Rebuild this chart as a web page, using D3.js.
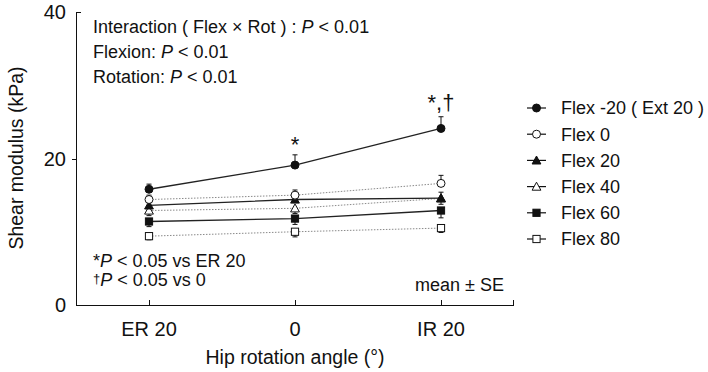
<!DOCTYPE html>
<html><head><meta charset="utf-8">
<script src="https://cdn.jsdelivr.net/npm/d3@7"></script>
<style>body{margin:0;background:#fff}svg{display:block;font-family:"Liberation Sans",Arial,Helvetica,sans-serif;-webkit-font-smoothing:antialiased}</style>
</head><body><svg id="c" width="708" height="372"></svg>
<script>
const categories = ["ER 20", "0", "IR 20"];
const seriesNames = ["Flex -20 ( Ext 20 )", "Flex 0", "Flex 20", "Flex 40", "Flex 60", "Flex 80"];
const flexM20 = [15.8, 19.1, 24.1];
const flex0 = [14.4, 15.0, 16.6];
const flex20 = [13.6, 14.4, 14.6];
const flex40 = [12.9, 13.2, 14.55];
const flex60 = [11.4, 11.8, 12.9];
const flex80 = [9.4, 10.0, 10.5];
const seM20 = [0.7, 1.4, 1.6];
const se0 = [0.6, 0.7, 1.1];
const se20 = [0.6, 0.6, 0.8];
const se40 = [0.7, 0.7, 0.8];
const se60 = [0.7, 0.8, 1.0];
const se80 = [0.5, 0.7, 0.6];
const yTicks = [0, 20, 40];
const sigLabels = ["", "*", "*,†"];

const values = [flexM20, flex0, flex20, flex40, flex60, flex80];
const ses = [seM20, se0, se20, se40, se60, se80];
const errDir = [1, 1, 1, -1, -1, -1];
const shapes = ["circle", "circle", "triangle", "triangle", "square", "square"];
const filled = [true, false, true, false, true, false];
const dotted = [false, true, false, true, false, true];

const svg = d3.select("#c");
const ink = "#111";
const x = d3.scalePoint().domain(categories).range([76, 514]).padding(0.5);
const y = d3.scaleLinear().domain([0, 40]).range([305, 12]);

// axes
svg.append("line").attr("x1", 76.5).attr("x2", 76.5).attr("y1", y(40)).attr("y2", y(0)).attr("stroke", ink).attr("stroke-width", 1);
svg.append("line").attr("x1", 76).attr("x2", 514).attr("y1", y(0)+0.5).attr("y2", y(0)+0.5).attr("stroke", ink).attr("stroke-width", 1);
yTicks.forEach(t => {
  if (t !== 0) svg.append("line").attr("x1", t===40?76:72).attr("x2", t===40?81:76).attr("y1", Math.round(y(t))+0.5).attr("y2", Math.round(y(t))+0.5).attr("stroke", ink);
  svg.append("text").attr("x", 66).attr("y", y(t)).attr("dy", "0.35em").attr("text-anchor", "end").attr("font-size", 20).attr("fill", ink).text(t);
});
categories.forEach(c => {
  svg.append("line").attr("x1", Math.round(x(c))+0.5).attr("x2", Math.round(x(c))+0.5).attr("y1", y(0)).attr("y2", y(0)-5).attr("stroke", ink);
  svg.append("text").attr("x", x(c)).attr("y", 329).attr("dy", "0.35em").attr("text-anchor", "middle").attr("font-size", 20).attr("fill", ink).text(c);
});
svg.append("line").attr("x1", 513.5).attr("x2", 513.5).attr("y1", y(0)).attr("y2", y(0)-5).attr("stroke", ink);
svg.append("text").attr("x", x("0")).attr("y", 357).attr("dy", "0.35em").attr("text-anchor", "middle").attr("font-size", 19.5).attr("fill", ink).text("Hip rotation angle (°)");
svg.append("text").attr("transform", "translate(16,158) rotate(-90)").attr("dy", "0.35em").attr("text-anchor", "middle").attr("font-size", 19.5).attr("fill", ink).text("Shear modulus (kPa)");

function marker(g, shape, fill, cx, cy, s) {
  const st = fill ? ink : "#fff";
  if (shape === "circle") g.append("circle").attr("cx", cx).attr("cy", cy).attr("r", s*0.5).attr("fill", st).attr("stroke", ink).attr("stroke-width", 1);
  else if (shape === "square") g.append("rect").attr("x", cx - s*0.45).attr("y", cy - s*0.45).attr("width", s*0.9).attr("height", s*0.9).attr("fill", st).attr("stroke", ink).attr("stroke-width", 1);
  else g.append("path").attr("d", `M${cx},${cy - s*0.55}L${cx + s*0.55},${cy + s*0.45}L${cx - s*0.55},${cy + s*0.45}Z`).attr("fill", st).attr("stroke", ink).attr("stroke-width", 1);
}

const line = d3.line().x((d, i) => x(categories[i])).y(d => y(d));
for (let k = values.length - 1; k >= 0; k--) {
  const g = svg.append("g");
  g.append("path").attr("d", line(values[k])).attr("fill", "none")
    .attr("stroke", dotted[k] ? "#8a8a8a" : "#222").attr("stroke-width", dotted[k] ? 1 : 1.3)
    .attr("stroke-dasharray", dotted[k] ? "1.5,1.5" : null);
  values[k].forEach((v, i) => {
    const cx = x(categories[i]);
    const ye = y(v + errDir[k] * ses[k][i]);
    g.append("line").attr("x1", cx).attr("x2", cx).attr("y1", y(v)).attr("y2", ye).attr("stroke", ink).attr("stroke-width", 1);
    g.append("line").attr("x1", cx - 2.5).attr("x2", cx + 2.5).attr("y1", ye).attr("y2", ye).attr("stroke", ink).attr("stroke-width", 1);
  });
  values[k].forEach((v, i) => marker(g, shapes[k], filled[k], x(categories[i]), y(v), 8));
}

// significance marks
sigLabels.forEach((s, i) => {
  if (!s) return;
  const top = flexM20[i] + seM20[i];
  svg.append("text").attr("x", x(categories[i])).attr("y", y(top) - (i === 2 ? 7 : 3)).attr("text-anchor", "middle").attr("font-size", 22).attr("fill", ink).text(s);
});

// stats annotations
function richText(xp, yp, parts, anchor) {
  const t = svg.append("text").attr("x", xp).attr("y", yp).attr("dy", "0.35em").attr("font-size", 18).attr("fill", ink).attr("text-anchor", anchor || "start");
  parts.forEach(p => t.append("tspan").attr("font-style", p[1] ? "italic" : null).text(p[0]));
}
richText(93, 27, [["Interaction ( Flex × Rot ) : ", false], ["P", true], [" < 0.01", false]]);
richText(93, 52, [["Flexion: ", false], ["P", true], [" < 0.01", false]]);
richText(93, 77, [["Rotation: ", false], ["P", true], [" < 0.01", false]]);
richText(93, 261, [["*", false], ["P", true], [" < 0.05 vs ER 20", false]]);
const dag = svg.append("text").attr("x", 93).attr("y", 285).attr("dy", "0.35em").attr("font-size", 18).attr("fill", ink);
dag.append("tspan").attr("font-size", 13).attr("dy", "-0.15em").attr("fill", ink).text("†");
dag.append("tspan").attr("font-style", "italic").attr("dy", "0.15em").text("P");
dag.append("tspan").text(" < 0.05 vs 0");
richText(504, 285, [["mean ± SE", false]], "end");

// legend
const legY = d3.scalePoint().domain(seriesNames).range([108, 239]);
seriesNames.forEach((n, k) => {
  const ly = legY(n);
  svg.append("line").attr("x1", 527).attr("x2", 546).attr("y1", ly).attr("y2", ly).attr("stroke", ink).attr("stroke-width", 1.2);
  marker(svg, shapes[k], filled[k], 536.5, ly, 8);
  svg.append("text").attr("x", 561).attr("y", ly).attr("dy", "0.35em").attr("font-size", 18).attr("fill", ink).text(n);
});
</script></body></html>
